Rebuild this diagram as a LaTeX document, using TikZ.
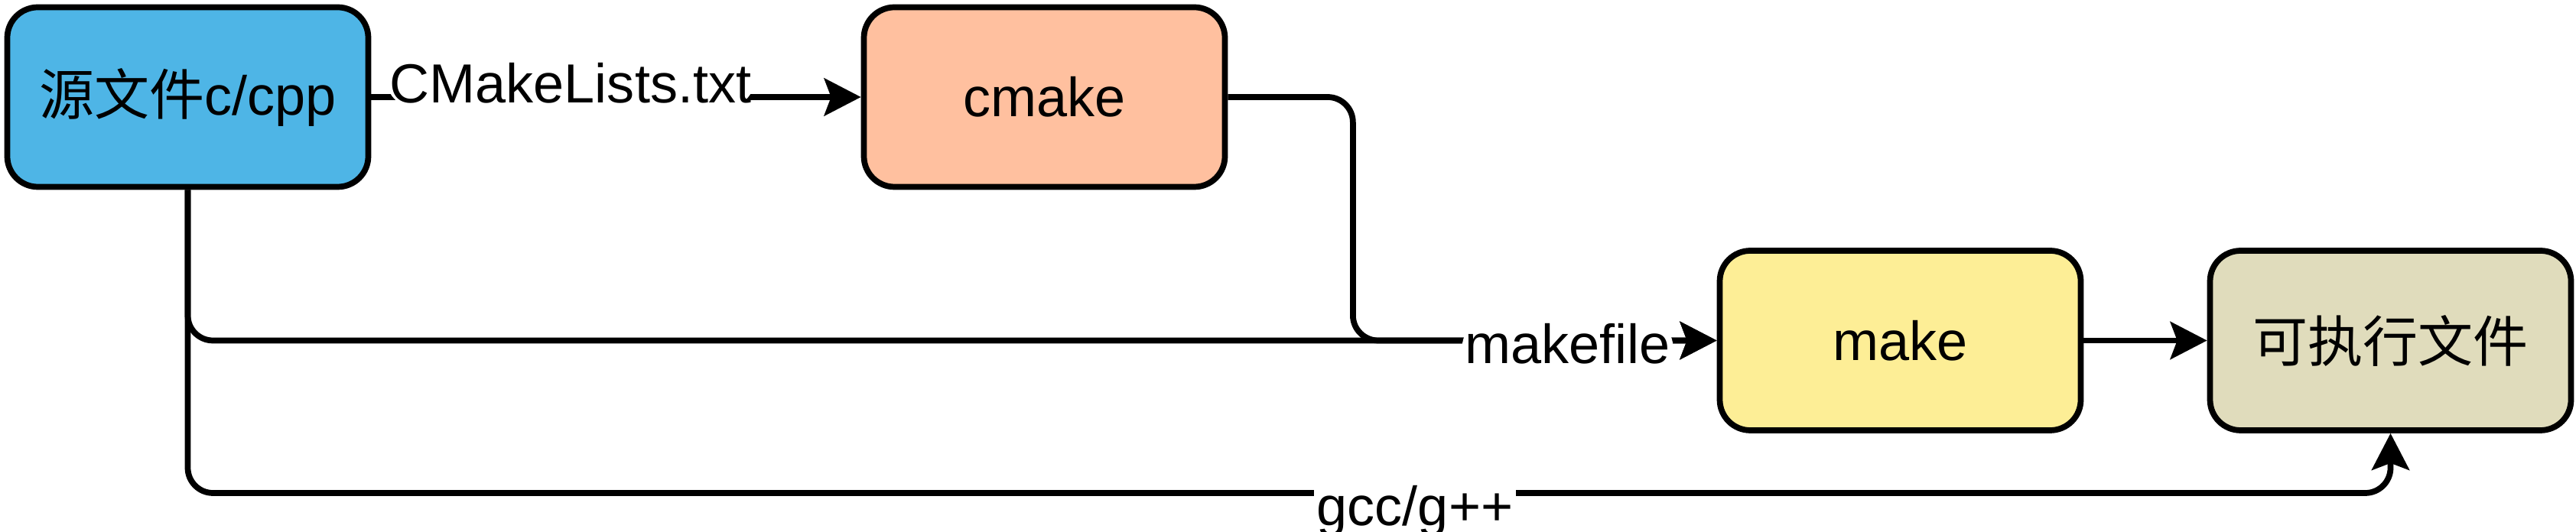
\documentclass[tikz,border=0pt]{standalone}
\usepackage{fontspec}
\setmainfont{Liberation Sans}
\newfontfamily\cjk{Noto Sans CJK SC}
\usetikzlibrary{arrows.meta}

\definecolor{srcblue}{RGB}{78,181,230}
\definecolor{cmakeorange}{RGB}{255,192,159}
\definecolor{makeyellow}{RGB}{253,238,150}
\definecolor{exebeige}{RGB}{224,220,188}

\begin{document}
\begin{tikzpicture}[
    box/.style={draw, line width=2.2pt, rounded corners=0.4cm, minimum width=4.72cm,
      minimum height=2.35cm, font=\fontsize{20.5pt}{24pt}\selectfont},
    link/.style={line width=2.2pt, rounded corners=0.33cm,
      -{Stealth[length=4.8mm, width=4.9mm, inset=0.9mm]}},
    lbl/.style={fill=white, inner sep=1pt, font=\fontsize{20.5pt}{24pt}\selectfont}
  ]
    \useasboundingbox (0,0) rectangle (33.68,6.96);

    \node[box, fill=srcblue] (src) at (2.455,5.69) {{\cjk 源文件}c/cpp};
    \node[box, fill=cmakeorange] (cmake) at (13.655,5.69) {cmake};
    \node[box, fill=makeyellow] (make) at (24.845,2.505) {make};
    \node[box, fill=exebeige] (exe) at (31.255,2.505) {\cjk 可执行文件};

    \coordinate (gccbend) at (31.255,0.51);

    \draw[link] (src.east) -- node[lbl, pos=0.407, anchor=base, yshift=-0.08cm] {CMakeLists.txt} (cmake.west);
    \draw[link] (src.south) |- (make.west);
    \draw[link] (cmake.east) -- ++(1.635,0) |- node[lbl, pos=0.795, yshift=-0.045cm] {makefile} (make.west);
    \draw[link] (make) -- (exe);
    \draw[link] (src.south) |- (gccbend) -- (exe.south);

    \node[lbl, anchor=base] (gcc) at (18.5,0.08) {gcc/g++};
  \end{tikzpicture}
\end{document}
